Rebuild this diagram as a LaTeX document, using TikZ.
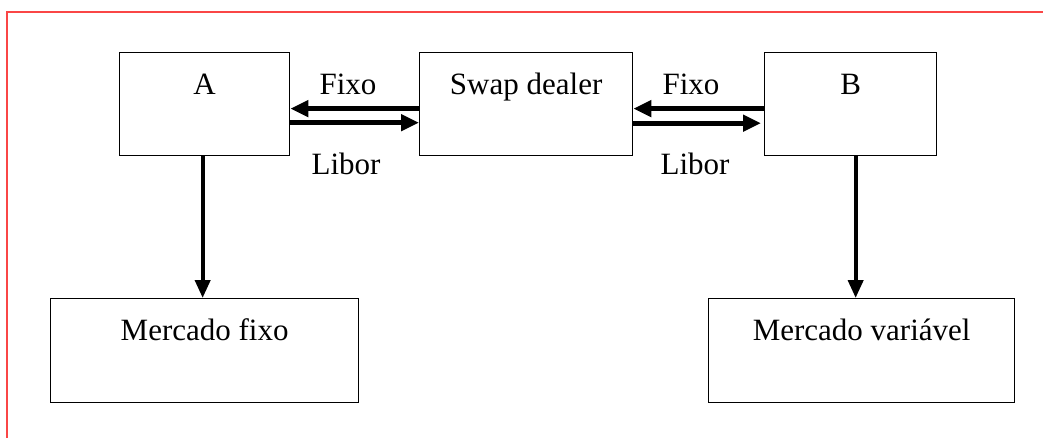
\documentclass[tikz,border=0pt]{standalone}
\usepackage{fontspec}
\setmainfont{Liberation Serif}
\usetikzlibrary{arrows.meta}
\begin{document}
\begin{tikzpicture}[x=1pt,y=-1pt,
  box/.style={draw, line width=1.3pt, inner sep=0pt, anchor=north west},
  txt/.style={font=\fontsize{31}{36}\selectfont, anchor=base, inner sep=0pt},
  flow/.style={line width=5pt, -{Triangle[length=18pt,width=16pt]}},
  drop/.style={line width=4pt, -{Triangle[length=18pt,width=15pt]}}]
\useasboundingbox (0,0) rectangle (1043,438);
% frame
\draw[color={rgb,255:red,250;green,70;blue,70}, line width=2.2pt]
  (7,439) -- (7,12) -- (1044,12);
% boxes
\node[box, minimum width=170pt, minimum height=103pt] (A) at (119,52) {};
\node[box, minimum width=213pt, minimum height=103pt] (S) at (419,52) {};
\node[box, minimum width=172pt, minimum height=103pt] (B) at (764,52) {};
\node[box, minimum width=308pt, minimum height=104pt] (MF) at (50,298) {};
\node[box, minimum width=306pt, minimum height=104pt] (MV) at (708,298) {};
% box texts
\node[txt] (tA) at ([yshift=-43pt]A.north) {A};
\node[txt] (tS) at ([yshift=-43pt]S.north) {Swap dealer};
\node[txt] (tB) at ([yshift=-43pt]B.north) {B};
\node[txt] (tMF) at ([yshift=-42pt]MF.north) {Mercado fixo};
\node[txt] (tMV) at ([yshift=-42pt]MV.north) {Mercado variável};
% flows between the parties
\draw[flow] ([yshift=-4.5pt]S.west) -- ([yshift=-4.5pt]A.east);
\draw[flow] ([yshift=-18.5pt]A.east) -- ([yshift=-18.5pt]S.west);
\draw[flow] ([yshift=-4.5pt]B.west) -- ([yshift=-4.5pt]S.east);
\draw[flow] ([yshift=-19pt]S.east) -- ([yshift=-19pt,xshift=-3pt]B.west);
% flow labels
\node[txt] (f1) at (348,95) {Fixo};
\node[txt] (l1) at (346,175) {Libor};
\node[txt] (f2) at (691,95) {Fixo};
\node[txt] (l2) at (695,175) {Libor};
% links to the markets
\draw[drop] ([xshift=-2pt]A.south) -- ([xshift=-2pt]A.south |- MF.north);
\draw[drop] ([xshift=5pt]B.south) -- ([xshift=5pt]B.south |- MV.north);
\end{tikzpicture}
\end{document}
